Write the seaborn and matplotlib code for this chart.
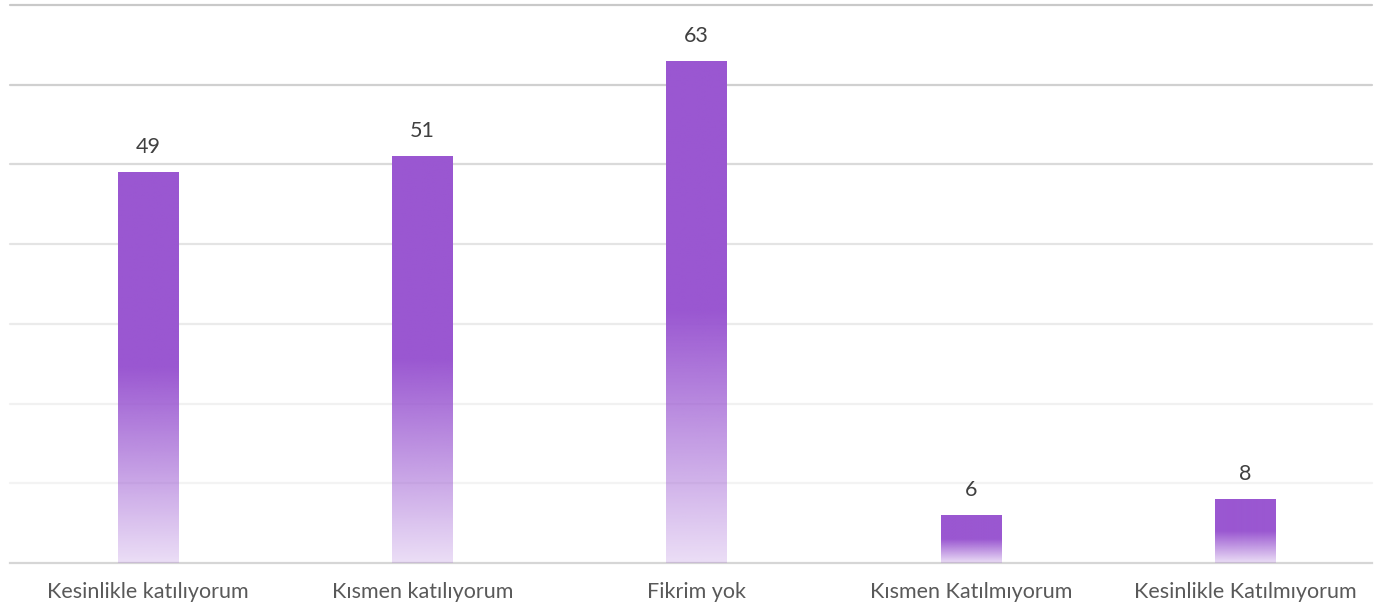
import matplotlib
matplotlib.use("Agg")
import matplotlib.pyplot as plt
from matplotlib.colors import to_rgb
import numpy as np
import pandas as pd
import seaborn as sns

categories = ['Kesinlikle katılıyorum', 'Kısmen katılıyorum', 'Fikrim yok',
              'Kısmen Katılmıyorum', 'Kesinlikle Katılmıyorum']
values = [49, 51, 63, 6, 8]

data = pd.DataFrame({'categories': categories, 'values': values})

sns.set_theme(style="white")
plt.rcParams['font.family'] = ['Lato', 'DejaVu Sans']

fig = plt.figure(figsize=(13.75, 6.09), dpi=100)
ax = fig.add_axes([10/1375, 1-563/609, 1362/1375, 558/609])

purple = "#9a57d1"
sns.barplot(x='categories', y='values', data=data, color=purple, width=0.22,
            ax=ax, saturation=1)

ax.set_xlim(-0.503, 4.463)
ax.set_ylim(0, 70)
ax.set_yticks([])
# gridlines get lighter toward the bottom
grid_cols = {10: "#f3f3f3", 20: "#f1f1f1", 30: "#ebebeb", 40: "#e4e4e4",
             50: "#dadada", 60: "#d0d0d0", 70: "#c9c9c9"}
for yv, c in grid_cols.items():
    ax.axhline(yv, color=c, linewidth=1.6, zorder=0, clip_on=False)
for s in ['left', 'right', 'top']:
    ax.spines[s].set_visible(False)
ax.spines['bottom'].set_color("#d6d6d6")
ax.spines['bottom'].set_linewidth(1.6)
ax.set_xlabel('')
ax.set_ylabel('')
ax.tick_params(axis='y', left=False, labelleft=False)
ax.tick_params(axis='x', bottom=False, pad=8, labelsize=15.5, labelcolor="#595959")

# gradient fill: solid top half, fading toward the bottom
r, g, b = to_rgb(purple)
n = 256
grad = np.ones((n, 1, 4))
grad[:, 0, 0], grad[:, 0, 1], grad[:, 0, 2] = r, g, b
t = np.linspace(0, 1, n)  # 0 bottom -> 1 top
alpha = np.where(t >= 0.5, 1.0, 0.2 + 0.8 * (t / 0.5))
grad[:, 0, 3] = alpha

for p, v in zip(ax.patches, values):
    x0, w, h = p.get_x(), p.get_width(), p.get_height()
    p.set_facecolor('none')
    p.set_edgecolor('none')
    im = ax.imshow(grad, extent=[x0, x0 + w, 0, h], origin='lower',
                   aspect='auto', zorder=3, interpolation='bilinear')
    im.set_clip_path(p)
    ax.text(x0 + w/2, h + 1.9, str(v), ha='center', va='bottom',
            fontsize=15.5, color="#404040")

ax.set_xlim(-0.503, 4.463)
ax.set_ylim(0, 70)
fig.savefig("out.png", dpi=100)
